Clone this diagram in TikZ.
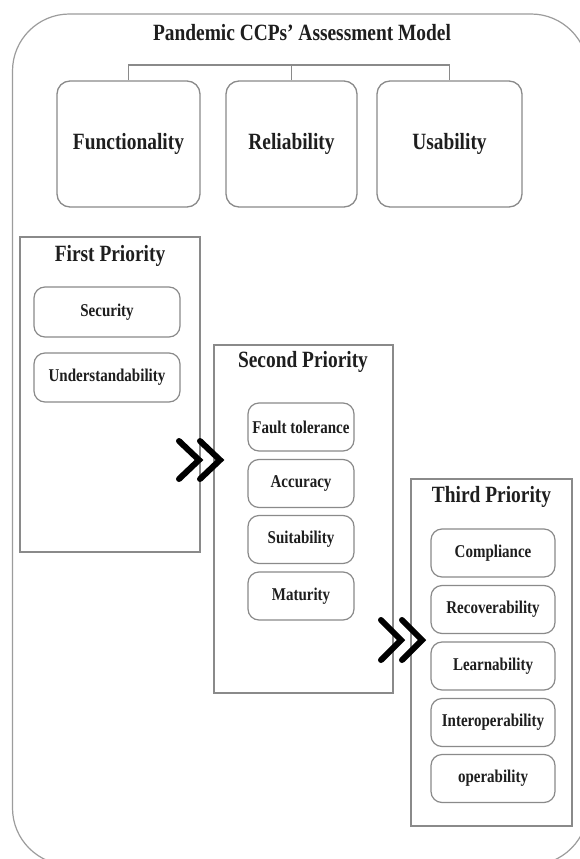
\documentclass[tikz,border=0pt]{standalone}
\usepackage{fontspec}
\setmainfont{Liberation Serif}
\definecolor{edge}{HTML}{8A8A8A}
\definecolor{ink}{HTML}{1E1E1E}
\newcommand{\vst}[1]{\scalebox{1}[1.2]{#1}}
\newcommand{\bigf}{\fontsize{19.4}{21}\selectfont\bfseries}
\newcommand{\smallf}{\fontsize{15}{17}\selectfont\bfseries}
\begin{document}
\begin{tikzpicture}[x=1pt,y=-1pt,
  outerbox/.style={draw=edge!85,line width=1.2pt,rounded corners=57pt},
  catbox/.style={draw=edge,line width=1.3pt,rounded corners=13pt,inner sep=0pt,
    minimum height=126pt,font=\bigf,text=ink},
  priobox/.style={draw=edge,line width=1.3pt,inner sep=0pt},
  priotitle/.style={inner sep=0pt,font=\bigf,text=ink},
  itembox/.style={draw=edge,line width=1.2pt,rounded corners=11pt,inner sep=0pt,
    minimum height=48pt,font=\smallf,text=ink},
  chev/.style={draw=black,line width=6pt,line cap=round,line join=miter},
  link/.style={draw=edge,line width=1.3pt}]
\useasboundingbox (0,0) rectangle (579,859);
\fill[white] (0,0) rectangle (579,859);
% outer frame
\draw[outerbox] (12.5,14) rectangle (588,865);
% title
\node[inner sep=0pt,font=\bigf,text=ink] (title) at (302,33) {\vst{Pandemic CCPs’ Assessment Model}};
% category boxes
\node[catbox,minimum width=143pt] (F) at (128.5,144) {\vst{Functionality}};
\node[catbox,minimum width=131pt] (R) at (291.5,144) {\vst{Reliability}};
\node[catbox,minimum width=145pt] (U) at (449.5,144) {\vst{Usability}};
\coordinate (bar) at (0,65);
\draw[link] (F.north) -- (F.north |- bar) -- (U.north |- bar) -- (U.north);
\draw[link] (R.north) -- (R.north |- bar);
% first priority
\node[priobox,minimum width=180pt,minimum height=315pt] (P1) at (110,394.5) {};
\node[priotitle] (P1t) at (110,256) {\vst{First Priority}};
\node[itembox,minimum width=146pt,minimum height=50pt] (sec) at (107,312) {\vst{Security}};
\node[itembox,minimum width=146pt,minimum height=49pt] (und) at (107,377.5) {\vst{Understandability}};
% second priority
\node[priobox,minimum width=179pt,minimum height=348pt] (P2) at (303.5,519) {};
\node[priotitle] (P2t) at (303,362) {\vst{Second Priority}};
\node[itembox,minimum width=106pt] (fault) at (301,427) {\vst{Fault tolerance}};
\node[itembox,minimum width=106pt] (acc) at (301,483.5) {\vst{Accuracy}};
\node[itembox,minimum width=106pt] (suit) at (301,539.5) {\vst{Suitability}};
\node[itembox,minimum width=106pt] (mat) at (301,596) {\vst{Maturity}};
% third priority
\node[priobox,minimum width=161pt,minimum height=347pt] (P3) at (491.5,652.5) {};
\node[priotitle] (P3t) at (491.5,497) {\vst{Third Priority}};
\node[itembox,minimum width=124pt] (comp) at (493,553) {\vst{Compliance}};
\node[itembox,minimum width=124pt] (rec) at (493,609.5) {\vst{Recoverability}};
\node[itembox,minimum width=124pt] (learn) at (493,666) {\vst{Learnability}};
\node[itembox,minimum width=124pt] (inter) at (493,722.5) {\vst{Interoperability}};
\node[itembox,minimum width=124pt] (oper) at (493,778.5) {\vst{operability}};
% chevrons
\draw[chev] (179,441) -- (199,460) -- (179,479);
\draw[chev] (200,441) -- (220,460) -- (200,479);
\draw[chev] (381,620) -- (401,640) -- (381,660);
\draw[chev] (402,620) -- (422,640) -- (402,660);
\end{tikzpicture}
\end{document}
